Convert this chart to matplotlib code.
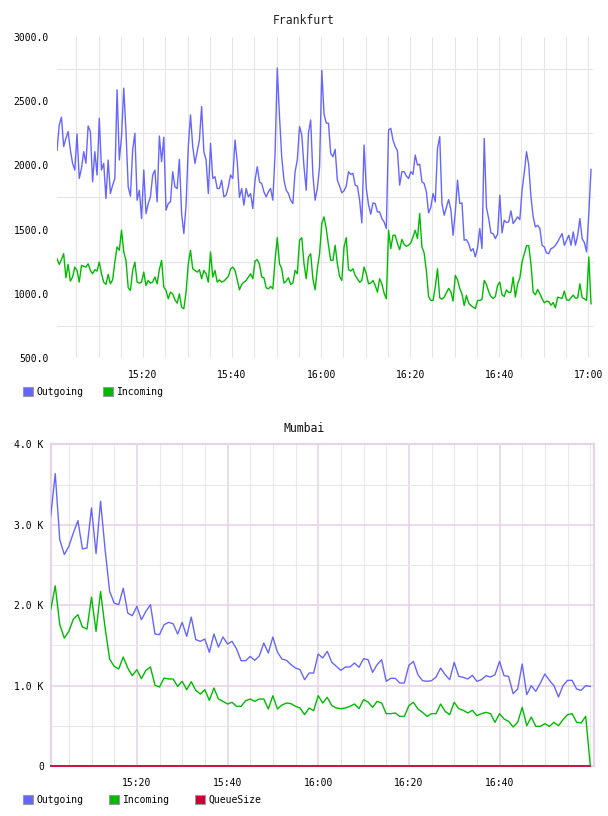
import matplotlib
matplotlib.use("Agg")
import matplotlib.pyplot as plt
import matplotlib.dates as mdates
from matplotlib.patches import Patch
from matplotlib.ticker import FixedLocator, FuncFormatter, MultipleLocator
import pandas as pd

FONT = "DejaVu Sans Mono"
OUT_COLOR = "#6666ff"
IN_COLOR = "#00bb00"
QUEUE_COLOR = "#cc0033"

# Frankfurt: one sample every 30 s
frankfurt_start = "2020-01-01 15:00:40"
frankfurt_outgoing = [
    2115, 2315, 2375, 2146, 2211, 2263, 2120, 2016, 1964, 2245,
    1898, 1977, 2107, 2016, 2307, 2263, 1872, 2107, 1925, 2367,
    1964, 2016, 1742, 2042, 1781, 1846, 1898, 2589, 2042, 2224,
    2602, 2263, 1833, 1760, 2120, 2250, 1729, 1807, 1586, 1964,
    1625, 1703, 1755, 1925, 1964, 1716, 2229, 2029, 2219, 1651,
    1703, 1716, 1951, 1833, 1820, 2047, 1625, 1469, 1690, 2146,
    2393,
    2146, 2016, 2107, 2198, 2458, 2107, 2042, 1781, 2172, 1898,
    1912, 1820, 1820, 1885, 1755, 1768, 1833, 1925, 1898, 2198,
    2029, 1750, 1820, 1690, 1820, 1755, 1781, 1664, 1885, 1990,
    1872, 1859, 1794, 1755, 1794, 1820, 1729, 2094, 2758, 2380,
    2063, 1885, 1807, 1781, 1729, 1703, 1951, 2042, 2302, 2237,
    1990, 1807, 2250, 2354, 1925, 1729, 1820, 1990, 2740, 2400,
    2330,
    2328, 2094, 2068, 2125, 1885, 1839, 1787, 1802, 1839, 1951,
    1930, 1938, 1846, 1839, 1729, 1552, 2159, 1820, 1695, 1620,
    1708, 1703, 1638, 1638, 1586, 1560, 1508, 2276, 2289, 2198,
    2146, 2115, 1846, 1951, 1951, 1917, 1898, 1951, 1930, 2081,
    2003, 2010, 1872, 1859, 1794, 1630, 1672, 1781, 1716, 2133,
    2224, 1703, 1612, 1672, 1734, 1656, 1456, 1638, 1885, 1703,
    1708, 1417, 1422, 1391, 1333, 1352, 1287, 1359, 1508, 1352,
    2211, 1672, 1586, 1474, 1469, 1430, 1464, 1768, 1474, 1573,
    1555, 1560, 1646, 1547, 1573, 1599, 1578, 1807, 1943, 2107,
    2003, 1755, 1599, 1521, 1534, 1508, 1378, 1365, 1318, 1313,
    1352, 1359, 1378, 1404, 1438, 1469, 1378, 1417, 1456, 1378,
    1482, 1378, 1456, 1586, 1430, 1399, 1326, 1625, 1969,
]
frankfurt_incoming = [
    1273, 1229, 1266, 1312, 1125, 1229, 1099, 1130, 1208, 1182,
    1091, 1221, 1214, 1208, 1234, 1182, 1156, 1188, 1177, 1247,
    1156, 1091, 1073, 1151, 1078, 1109, 1247, 1365, 1339, 1495,
    1326, 1260, 1047, 1026, 1182, 1247, 1091, 1083, 1091, 1169,
    1065, 1104, 1083, 1091, 1130, 1078, 1188, 1260, 1052, 1026,
    961, 1013, 1000, 953, 927, 1000, 896, 883, 1013, 1234,
    1339,
    1195, 1182, 1169, 1188, 1117, 1182, 1156, 1091, 1326, 1130,
    1182, 1091, 1109, 1091, 1099, 1117, 1135, 1193, 1208, 1182,
    1109, 1031, 1073, 1091, 1104, 1130, 1156, 1117, 1255, 1266,
    1229, 1130, 1125, 1047, 1039, 1057, 1039, 1260, 1437, 1234,
    1195, 1083, 1099, 1125, 1073, 1083, 1182, 1156, 1417, 1437,
    1234, 1117, 1286, 1312, 1117, 1031, 1195, 1312, 1547, 1599,
    1508,
    1378, 1260, 1260, 1378, 1234, 1135, 1104, 1365, 1437, 1188,
    1177, 1195, 1143, 1117, 1089, 1104, 1208, 1156, 1078, 1083,
    1104, 1065, 1013, 1117, 1078, 1005, 961, 1495, 1352, 1456,
    1456, 1391, 1344, 1424, 1385, 1370, 1378, 1396, 1443, 1495,
    1430, 1625, 1365, 1318, 1177, 979, 948, 948, 1052, 1195,
    969, 958, 974, 1008, 1042, 1016, 943, 1143, 1109, 1042,
    1000, 909, 987, 927, 909, 896, 885, 948, 948, 956,
    1104, 1073, 1016, 979, 964, 979, 1065, 1091, 992, 979,
    1031, 1010, 1013, 1130, 974, 1078, 1122, 1247, 1312, 1375,
    1375, 1234, 1013, 992, 1034, 1000, 961, 930, 943, 940,
    911, 932, 891, 974, 969, 964, 1021, 953, 948, 969,
    990, 966, 969, 1078, 971, 961, 948, 1286, 922,
]

# Mumbai: one sample per minute
mumbai_start = "2020-01-01 15:01"
mumbai_ticks = ["15:20", "15:40", "16:00", "16:20", "16:40"]
mumbai_outgoing = [
    3105, 3636, 2815, 2629, 2732, 2898, 3051, 2699, 2711, 3209,
    2641, 3292, 2690, 2173, 2026, 2006, 2210, 1902, 1869, 1985,
    1819, 1923, 2006, 1641, 1633, 1757, 1786, 1769, 1641, 1786,
    1612, 1852, 1571, 1550, 1579, 1413, 1641, 1479, 1604, 1517,
    1550, 1455, 1309, 1309, 1363, 1314, 1368, 1529, 1405, 1604,
    1417, 1330, 1314, 1260, 1218, 1198,
    1073, 1156, 1156, 1392, 1343, 1426, 1289, 1239, 1189, 1231,
    1231, 1281, 1227, 1334, 1322, 1164, 1260, 1322, 1053, 1090,
    1090, 1032, 1032, 1251, 1301, 1135, 1061, 1053, 1061, 1106,
    1218, 1135, 1073, 1289, 1115, 1102, 1082, 1127, 1053, 1073,
    1123, 1106, 1135, 1301, 1123, 1115, 899, 957, 1268, 887,
    999, 928, 1032, 1144, 1065, 999, 858, 999, 1065, 1065,
    957, 941, 999, 990,
]
mumbai_incoming = [
    1944, 2240, 1757, 1591, 1674, 1827, 1881, 1728, 1703, 2100,
    1674, 2170, 1716, 1330, 1239, 1206, 1355, 1218, 1123, 1198,
    1086, 1189, 1231, 1003, 982, 1094, 1082, 1082, 990, 1053,
    949, 1048, 941, 895, 949, 816, 970, 833, 804, 771,
    792, 742, 742, 812, 833, 804, 833, 833, 709, 874,
    709, 758, 783, 775, 742, 721,
    638, 721, 688, 874, 783, 854, 750, 721, 713, 721,
    742, 771, 713, 825, 796, 729, 804, 783, 651, 651,
    659, 617, 617, 750, 792, 709, 667, 617, 651, 651,
    771, 680, 638, 792, 713, 692, 659, 692, 626, 651,
    667, 651, 543, 651, 584, 555, 485, 543, 729, 501,
    609, 493, 493, 526, 493, 543, 501, 576, 638, 651,
    543, 535, 617, 17,
]
mumbai_queue = [0] * len(mumbai_outgoing)  # queue stayed empty the whole time


def legend_handle(color):
    return Patch(facecolor=color, edgecolor="#999999", linewidth=0.8)


def base_axis(ax):
    ax.set_axisbelow(True)
    ax.tick_params(which="both", length=0, labelsize=7)
    ax.xaxis.set_major_formatter(mdates.DateFormatter("%H:%M"))
    ax.xaxis.set_minor_locator(mdates.MinuteLocator(byminute=range(0, 60, 5)))


fig = plt.figure(figsize=(6.08, 8.16), dpi=100)
W, H = 608.0, 816.0

# ---- Frankfurt ----
ft = pd.date_range(frankfurt_start, periods=len(frankfurt_outgoing), freq="30s")
ax1 = fig.add_axes([57 / W, 1 - 358 / H, (594 - 57) / W, (358 - 37) / H])
ax1.plot(ft, frankfurt_outgoing, color=OUT_COLOR, lw=1.0)
ax1.plot(ft, frankfurt_incoming, color=IN_COLOR, lw=1.0)
ax1.set_xlim(pd.Timestamp("2020-01-01 15:00:40"), pd.Timestamp("2020-01-01 17:01:20"))
ax1.set_ylim(500, 3000)
ax1.yaxis.set_major_locator(MultipleLocator(500))
ax1.yaxis.set_minor_locator(FixedLocator([750, 1250, 1750, 2250, 2750]))
ax1.yaxis.set_major_formatter(FuncFormatter(lambda v, p: f"{v:.1f}"))
base_axis(ax1)
ax1.xaxis.set_major_locator(mdates.MinuteLocator(byminute=[0, 20, 40]))
ax1.tick_params(axis="x", pad=9)
ax1.tick_params(axis="y", pad=6)
ax1.grid(which="minor", axis="y", color="#e6e6e6", lw=0.8)
ax1.grid(which="both", axis="x", color="#e6e6e6", lw=0.8)
for s in ax1.spines.values():
    s.set_visible(False)
for lbl in ax1.get_xticklabels() + ax1.get_yticklabels():
    lbl.set_family(FONT)

fig.text(0.5, 1 - 20 / H, "Frankfurt", ha="center", va="center",
         family=FONT, fontsize=8.3, color="#222222")
fig.legend([legend_handle(OUT_COLOR), legend_handle(IN_COLOR)],
           ["Outgoing", "Incoming"], loc="center left",
           bbox_to_anchor=(23 / W, 1 - 392 / H), ncol=2, frameon=False,
           prop={"family": FONT, "size": 7}, handlelength=1.0,
           handleheight=1.0, handletextpad=0.4, columnspacing=2.0,
           borderpad=0, borderaxespad=0)

# ---- Mumbai ----
mt = pd.date_range(mumbai_start, periods=len(mumbai_outgoing), freq="1min")
ax2 = fig.add_axes([50.7 / W, 1 - 766 / H, (594 - 50.7) / W, (766 - 444.3) / H])
ax2.plot(mt, mumbai_outgoing, color=OUT_COLOR, lw=1.0, zorder=3)
ax2.plot(mt, mumbai_incoming, color=IN_COLOR, lw=1.0, zorder=3)
ax2.plot(mt, mumbai_queue, color=QUEUE_COLOR, lw=1.3, zorder=4, clip_on=False)
ax2.set_xlim(pd.Timestamp("2020-01-01 15:01:00"), pd.Timestamp("2020-01-01 17:00:50"))
ax2.set_ylim(0, 4000)
ax2.yaxis.set_major_locator(MultipleLocator(1000))
ax2.yaxis.set_minor_locator(MultipleLocator(500))
ax2.yaxis.set_major_formatter(
    FuncFormatter(lambda v, p: "0" if v == 0 else f"{v / 1000:.1f} K"))
base_axis(ax2)
ax2.xaxis.set_major_locator(FixedLocator(
    [mdates.date2num(pd.Timestamp("2020-01-01 " + t)) for t in mumbai_ticks]))
ax2.tick_params(axis="x", pad=9)
ax2.tick_params(axis="y", pad=5)
ax2.grid(which="minor", color="#e8e8e8", lw=0.8)
ax2.grid(which="major", color="#e8d4e8", lw=1.2)
for s in ax2.spines.values():
    s.set_color("#e8d4e8")
    s.set_linewidth(1.6)
for lbl in ax2.get_xticklabels() + ax2.get_yticklabels():
    lbl.set_family(FONT)

fig.text(0.5, 1 - 429 / H, "Mumbai", ha="center", va="center",
         family=FONT, fontsize=8.3, color="#111111")
fig.legend([legend_handle(OUT_COLOR), legend_handle(IN_COLOR), legend_handle(QUEUE_COLOR)],
           ["Outgoing", "Incoming", "QueueSize"], loc="center left",
           bbox_to_anchor=(23 / W, 1 - 800 / H), ncol=3, frameon=False,
           prop={"family": FONT, "size": 7}, handlelength=1.0,
           handleheight=1.0, handletextpad=0.4, columnspacing=2.6,
           borderpad=0, borderaxespad=0)

fig.savefig("out.png", dpi=100)
